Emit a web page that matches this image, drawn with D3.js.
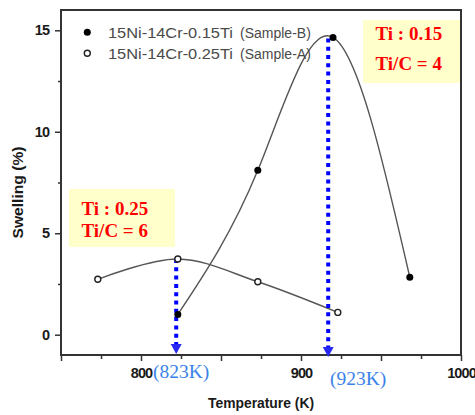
<!DOCTYPE html>
<html>
<head>
<meta charset="utf-8">
<script src="https://cdn.jsdelivr.net/npm/d3@7"></script>
<style>
  html, body { margin: 0; padding: 0; background: #fff; }
  svg { display: block; }
</style>
</head>
<body>
<svg id="chart" width="475" height="415"></svg>
<script>
// ---------- data ----------
const sampleBTemp = [823, 873, 920, 968];
const sampleBSwelling = [1.0, 8.1, 14.65, 2.83];
const sampleATemp = [773, 823, 873, 923];
const sampleASwelling = [2.73, 3.73, 2.61, 1.1];
const seriesNames = ["15Ni-14Cr-0.15Ti", "15Ni-14Cr-0.25Ti"];
const seriesSamples = ["(Sample-B)", "(Sample-A)"];
const xTickLabels = [800, 900, 1000];
const yTickLabels = [0, 5, 10, 15];
const arrowTemps = [822, 917];
const arrowFrom = [3.73, 14.6];
const arrowLabels = ["(823K)", "(923K)"];
const boxLines1 = ["Ti : 0.25", "Ti/C = 6"];
const boxLines2 = ["Ti : 0.15", "Ti/C = 4"];

// ---------- layout ----------
const svg = d3.select("#chart");
const W = 475, H = 415;
const m = { left: 61, top: 10, right: 14, bottom: 60 };
const x = d3.scaleLinear().domain([750, 1000]).range([m.left, W - m.right]);
const y = d3.scaleLinear().domain([-1, 16]).range([H - m.bottom, m.top]);

svg.append("rect").attr("width", W).attr("height", H).attr("fill", "#fff");

const axisColor = "#333";
const sans = "Liberation Sans, Arial, sans-serif";
const serif = "Liberation Serif, 'Times New Roman', serif";

// axes
const xMajor = d3.range(750, 1001, 50);
const xMinor = d3.range(775, 1000, 50);
const gx = svg.append("g").attr("transform", `translate(0,${y(-1)})`);
gx.call(d3.axisBottom(x).tickValues(xMajor).tickSize(6).tickFormat(d => xTickLabels.includes(d) ? d : ""));
gx.append("g").call(d3.axisBottom(x).tickValues(xMinor).tickSize(4).tickFormat(""));
gx.selectAll("path.domain").remove();
gx.selectAll("line").attr("stroke", axisColor).attr("stroke-width", 1.5);
gx.selectAll("text").attr("fill", "#1a1a1a").attr("font-family", sans)
  .attr("font-weight", "bold").attr("font-size", 14.5).attr("letter-spacing", "-0.9px").attr("dy", "0.95em");

const gy = svg.append("g").attr("transform", `translate(${x(750)},0)`);
gy.call(d3.axisLeft(y).tickValues(yTickLabels).tickSize(6).tickFormat(d => d));
gy.append("g").call(d3.axisLeft(y).tickValues([2.5, 7.5, 12.5]).tickSize(3).tickFormat(""));
gy.selectAll("path.domain").remove();
gy.selectAll("line").attr("stroke", axisColor).attr("stroke-width", 1.5);
gy.selectAll("text").attr("fill", "#1a1a1a").attr("font-family", sans)
  .attr("font-weight", "bold").attr("font-size", 14.5).attr("letter-spacing", "-0.9px").attr("dx", "-0.2em");

// frame
svg.append("rect")
  .attr("x", x(750)).attr("y", y(16))
  .attr("width", x(1000) - x(750)).attr("height", y(-1) - y(16))
  .attr("fill", "none").attr("stroke", axisColor).attr("stroke-width", 2);

// axis titles
svg.append("text").attr("x", 208).attr("y", 408)
  .attr("font-family", sans).attr("font-weight", "bold")
  .attr("font-size", 14).attr("fill", "#1a1a1a").attr("textLength", 106).attr("lengthAdjust", "spacingAndGlyphs")
  .text("Temperature (K)");
svg.append("text").attr("transform", "translate(23,238.5) rotate(-90)")
  .attr("font-family", sans).attr("font-weight", "bold")
  .attr("font-size", 14).attr("fill", "#1a1a1a").attr("textLength", 92).attr("lengthAdjust", "spacingAndGlyphs")
  .text("Swelling (%)");

// yellow boxes
function box(x0, y0, w, h, lines, firstBase, spacing) {
  svg.append("rect").attr("x", x0).attr("y", y0).attr("width", w).attr("height", h).attr("fill", "#FFFFCC");
  lines.forEach((t, i) => {
    svg.append("text").attr("x", x0 + 12.5).attr("y", firstBase + i * spacing)
      .attr("font-family", serif).attr("font-weight", "bold")
      .attr("font-size", 19).attr("fill", "#FF0000").text(t);
  });
}
box(69, 189, 106, 58, boxLines1, 215, 22.3);
box(363, 20, 97, 63, boxLines2, 39.5, 30);

// curves
const dataB = sampleBTemp.map((t, i) => [t, sampleBSwelling[i]]);
const dataA = sampleATemp.map((t, i) => [t, sampleASwelling[i]]);
const lineB = d3.line().x(d => x(d[0])).y(d => y(d[1])).curve(d3.curveNatural);
const lineA = d3.line().x(d => x(d[0])).y(d => y(d[1])).curve(d3.curveCatmullRom.alpha(0.5));
svg.append("path").attr("d", lineB(dataB)).attr("fill", "none").attr("stroke", "#555").attr("stroke-width", 1.4);
svg.append("path").attr("d", lineA(dataA)).attr("fill", "none").attr("stroke", "#555").attr("stroke-width", 1.4);

// arrows
arrowTemps.forEach((t, i) => {
  const xa = x(t);
  svg.append("line").attr("x1", xa).attr("x2", xa).attr("y1", y(arrowFrom[i])).attr("y2", y(-1) - 8)
    .attr("stroke", "#0000FF").attr("stroke-width", 4).attr("stroke-dasharray", "4,4.3");
  const tipY = y(-1) - 1 + i * 3;
  svg.append("path").attr("d", `M${xa - 5.5},${tipY - 10}L${xa + 5.5},${tipY - 10}L${xa},${tipY}Z`).attr("fill", "#2828F0");
});
svg.append("text").attr("x", 153).attr("y", 378).text(arrowLabels[0])
  .attr("font-family", serif).attr("font-size", 19.5).attr("fill", "#3A82E8");
svg.append("text").attr("x", 330).attr("y", 385).text(arrowLabels[1])
  .attr("font-family", serif).attr("font-size", 19.5).attr("fill", "#3A82E8");

// markers
svg.selectAll("circle.b").data(dataB).enter().append("circle").attr("class", "b")
  .attr("cx", d => x(d[0])).attr("cy", d => y(d[1])).attr("r", 3.5).attr("fill", "#000");
svg.selectAll("circle.a").data(dataA).enter().append("circle").attr("class", "a")
  .attr("cx", d => x(d[0])).attr("cy", d => y(d[1])).attr("r", 3).attr("fill", "#fff")
  .attr("stroke", "#222").attr("stroke-width", 1.4);

// legend
svg.append("circle").attr("cx", 87.3).attr("cy", 32.3).attr("r", 3.5).attr("fill", "#000");
svg.append("circle").attr("cx", 87.3).attr("cy", 53.3).attr("r", 3).attr("fill", "#fff").attr("stroke", "#222").attr("stroke-width", 1.4);
seriesNames.forEach((n, i) => {
  svg.append("text").attr("x", 108).attr("y", 37.5 + i * 21).text(n)
    .attr("font-family", sans).attr("font-size", 14)
    .attr("fill", "#4a4a4a").attr("textLength", 125).attr("lengthAdjust", "spacingAndGlyphs");
  svg.append("text").attr("x", 240).attr("y", 37.5 + i * 21).text(seriesSamples[i])
    .attr("font-family", sans).attr("font-size", 14)
    .attr("fill", "#4a4a4a");
});
</script>
</body>
</html>
